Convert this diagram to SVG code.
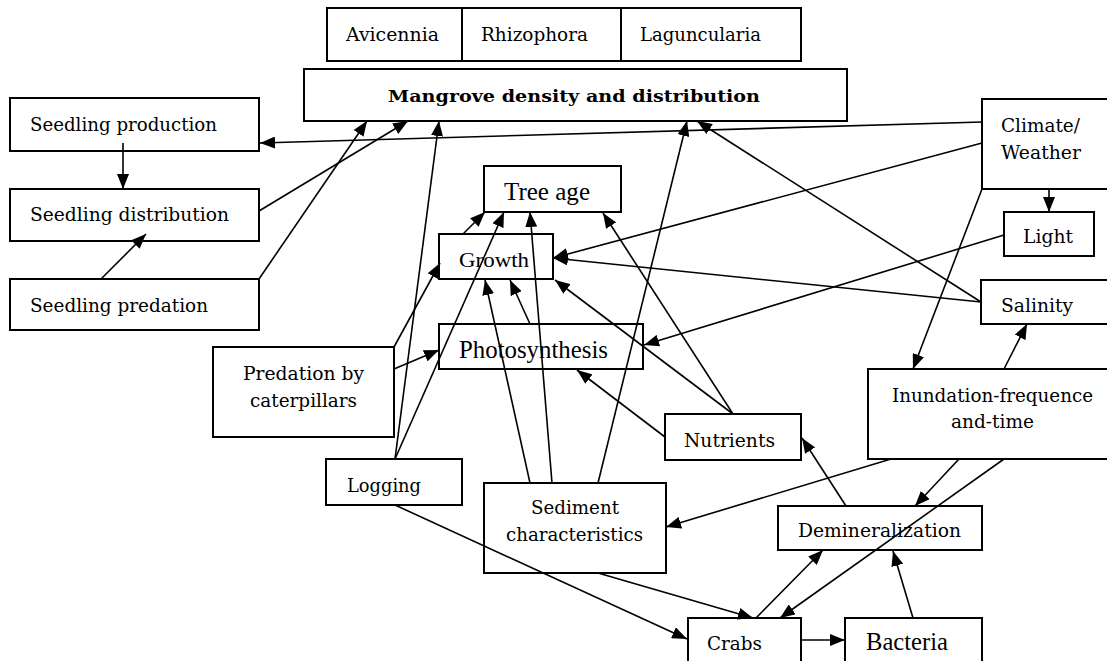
<svg xmlns="http://www.w3.org/2000/svg" width="1107" height="661" viewBox="0 0 1107 661">
<defs>
<marker id="ah" markerWidth="15" markerHeight="12" refX="15" refY="6" orient="auto" markerUnits="userSpaceOnUse">
<path d="M0,0 L15,6 L0,12 z" fill="#000"/>
</marker>
<style>
.box{fill:#fff;stroke:#000;stroke-width:2}
.t{font-family:"DejaVu Serif","Liberation Serif",serif;font-size:19px;fill:#000}
.tb{font-family:"DejaVu Serif","Liberation Serif",serif;font-size:17px;font-weight:bold;fill:#000}
.tt{font-family:"Liberation Serif","Times New Roman",serif;font-size:25px;fill:#000}
.c line{stroke:#000;stroke-width:1.6;marker-end:url(#ah)}
</style>
</defs>
<rect width="1107" height="661" fill="#fff"/>

<g id="species">
<rect class="box" x="327" y="8" width="474" height="53"/>
<line x1="462" y1="8" x2="462" y2="61" stroke="#000" stroke-width="2"/>
<line x1="621" y1="8" x2="621" y2="61" stroke="#000" stroke-width="2"/>
<text class="t" x="346" y="41" textLength="93" lengthAdjust="spacingAndGlyphs">Avicennia</text>
<text class="t" x="481" y="41" textLength="107" lengthAdjust="spacingAndGlyphs">Rhizophora</text>
<text class="t" x="640" y="41" textLength="121" lengthAdjust="spacingAndGlyphs">Laguncularia</text>
</g>

<g id="mangrove">
<rect class="box" x="304" y="69" width="543" height="52"/>
<text class="tb" x="388" y="102" textLength="372" lengthAdjust="spacingAndGlyphs">Mangrove density and distribution</text>
</g>

<g id="seedling-production">
<rect class="box" x="10" y="98" width="249" height="53"/>
<text class="t" x="30" y="131" textLength="187" lengthAdjust="spacingAndGlyphs">Seedling production</text>
</g>
<g id="seedling-distribution">
<rect class="box" x="10" y="189" width="249" height="52"/>
<text class="t" x="30" y="221" textLength="199" lengthAdjust="spacingAndGlyphs">Seedling distribution</text>
</g>
<g id="seedling-predation">
<rect class="box" x="10" y="279" width="249" height="51"/>
<text class="t" x="30" y="312" textLength="178" lengthAdjust="spacingAndGlyphs">Seedling predation</text>
</g>

<g id="tree-age">
<rect class="box" x="484" y="166" width="137" height="46"/>
<text class="tt" x="504" y="200" textLength="86" lengthAdjust="spacingAndGlyphs">Tree age</text>
</g>
<g id="growth">
<rect class="box" x="439" y="234" width="114" height="45"/>
<text class="tt" style="font-size:22px" x="459" y="267" textLength="70" lengthAdjust="spacingAndGlyphs">Growth</text>
</g>
<g id="photosynthesis">
<rect class="box" x="439" y="324" width="204" height="45"/>
<text class="tt" x="459" y="358" textLength="149" lengthAdjust="spacingAndGlyphs">Photosynthesis</text>
</g>

<g id="predation-caterpillars">
<rect class="box" x="213" y="347" width="181" height="90"/>
<text class="t" x="243" y="380" textLength="121" lengthAdjust="spacingAndGlyphs">Predation by</text>
<text class="t" x="250" y="407" textLength="107" lengthAdjust="spacingAndGlyphs">caterpillars</text>
</g>
<g id="logging">
<rect class="box" x="326" y="459" width="136" height="46"/>
<text class="t" x="347" y="492" textLength="74" lengthAdjust="spacingAndGlyphs">Logging</text>
</g>
<g id="sediment">
<rect class="box" x="484" y="483" width="182" height="90"/>
<text class="t" x="531" y="514" textLength="88" lengthAdjust="spacingAndGlyphs">Sediment</text>
<text class="t" x="506" y="541" textLength="137" lengthAdjust="spacingAndGlyphs">characteristics</text>
</g>
<g id="nutrients">
<rect class="box" x="665" y="414" width="136" height="46"/>
<text class="t" x="684" y="447" textLength="91" lengthAdjust="spacingAndGlyphs">Nutrients</text>
</g>
<g id="demineralization">
<rect class="box" x="778" y="506" width="204" height="44"/>
<text class="t" x="798" y="537" textLength="163" lengthAdjust="spacingAndGlyphs">Demineralization</text>
</g>
<g id="crabs">
<rect class="box" x="688" y="618" width="113" height="60"/>
<text class="t" x="707" y="650" textLength="55" lengthAdjust="spacingAndGlyphs">Crabs</text>
</g>
<g id="bacteria">
<rect class="box" x="845" y="618" width="137" height="60"/>
<text class="tt" x="866" y="650" textLength="82" lengthAdjust="spacingAndGlyphs">Bacteria</text>
</g>
<g id="inundation">
<rect class="box" x="868" y="369" width="260" height="90"/>
<text class="t" x="892" y="402" textLength="201" lengthAdjust="spacingAndGlyphs">Inundation-frequence</text>
<text class="t" x="951" y="428" textLength="83" lengthAdjust="spacingAndGlyphs">and-time</text>
</g>
<g id="climate">
<rect class="box" x="982" y="99" width="140" height="90"/>
<text class="t" x="1001" y="132" textLength="79" lengthAdjust="spacingAndGlyphs">Climate/</text>
<text class="t" x="1001" y="159" textLength="80" lengthAdjust="spacingAndGlyphs">Weather</text>
</g>
<g id="light">
<rect class="box" x="1004" y="212" width="90" height="44"/>
<text class="t" x="1023" y="243" textLength="50" lengthAdjust="spacingAndGlyphs">Light</text>
</g>
<g id="salinity">
<rect class="box" x="981" y="280" width="140" height="44"/>
<text class="t" x="1001" y="312" textLength="72" lengthAdjust="spacingAndGlyphs">Salinity</text>
</g>

<g id="connectors" class="c">
<line x1="982" y1="122" x2="260" y2="143"/>
<line x1="259" y1="211" x2="408" y2="121"/>
<line x1="259" y1="279" x2="367" y2="121"/>
<line x1="123" y1="143" x2="123" y2="189"/>
<line x1="101" y1="279" x2="146" y2="234"/>
<line x1="395" y1="459" x2="439" y2="121"/>
<line x1="395" y1="459" x2="504" y2="212"/>
<line x1="394" y1="347" x2="440" y2="263"/>
<line x1="394" y1="369" x2="439" y2="350"/>
<line x1="463" y1="234" x2="485" y2="212"/>
<line x1="530" y1="483" x2="485" y2="280"/>
<line x1="552" y1="483" x2="530" y2="212"/>
<line x1="598" y1="483" x2="687" y2="121"/>
<line x1="530" y1="324" x2="510" y2="280"/>
<line x1="733" y1="414" x2="555" y2="280"/>
<line x1="733" y1="414" x2="603" y2="213"/>
<line x1="665" y1="437" x2="577" y2="370"/>
<line x1="982" y1="143" x2="553" y2="258"/>
<line x1="981" y1="302" x2="553" y2="258"/>
<line x1="981" y1="302" x2="697" y2="121"/>
<line x1="1004" y1="235" x2="644" y2="345"/>
<line x1="1049" y1="189" x2="1049" y2="212"/>
<line x1="982" y1="189" x2="913" y2="369"/>
<line x1="1004" y1="369" x2="1027" y2="324"/>
<line x1="891" y1="459" x2="666" y2="527"/>
<line x1="959" y1="459" x2="915" y2="506"/>
<line x1="1004" y1="459" x2="780" y2="618"/>
<line x1="846" y1="506" x2="802" y2="438"/>
<line x1="756" y1="618" x2="823" y2="550"/>
<line x1="598" y1="573" x2="753" y2="618"/>
<line x1="395" y1="505" x2="687" y2="639"/>
<line x1="801" y1="640" x2="845" y2="640"/>
<line x1="913" y1="618" x2="893" y2="551"/>
</g>
</svg>
